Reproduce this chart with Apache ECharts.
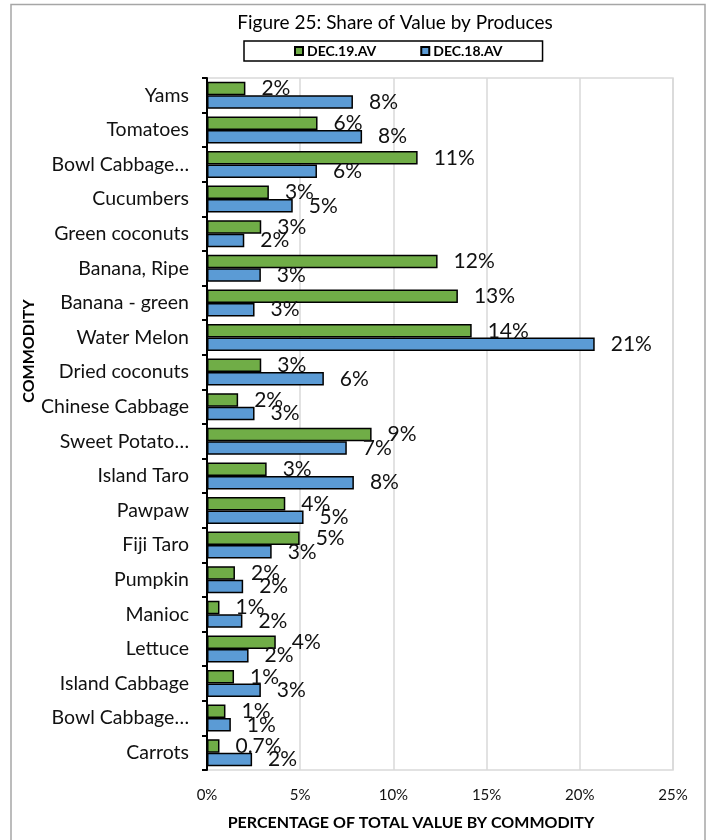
<!DOCTYPE html>
<html>
<head>
<meta charset="utf-8">
<script src="https://cdn.jsdelivr.net/npm/echarts@6/dist/echarts.min.js"></script>
<style>
html,body{margin:0;padding:0;background:#fff;}
#chart{width:708px;height:840px;}
</style>
</head>
<body>
<div id="chart"></div>
<script>
var categories = ['Yams','Tomatoes','Bowl Cabbage…','Cucumbers','Green coconuts','Banana, Ripe','Banana - green','Water Melon','Dried coconuts','Chinese Cabbage','Sweet Potato…','Island Taro','Pawpaw','Fiji Taro','Pumpkin','Manioc','Lettuce','Island Cabbage','Bowl Cabbage…','Carrots'];
var dec19 = [2.06, 5.93, 11.3, 3.32, 2.91, 12.37, 13.46, 14.2, 2.91, 1.67, 8.83, 3.2, 4.2, 4.97, 1.5, 0.67, 3.69, 1.45, 0.99, 0.67];
var dec18 = [7.83, 8.32, 5.9, 4.6, 2.0, 2.89, 2.55, 20.8, 6.27, 2.55, 7.5, 7.88, 5.18, 3.47, 1.94, 1.9, 2.23, 2.89, 1.28, 2.42];
var dec19Labels = ['2%','6%','11%','3%','3%','12%','13%','14%','3%','2%','9%','3%','4%','5%','2%','1%','4%','1%','1%','0.7%'];
var dec18Labels = ['8%','8%','6%','5%','2%','3%','3%','21%','6%','3%','7%','8%','5%','3%','2%','2%','2%','3%','1%','2%'];
var xTicks = [0, 5, 10, 15, 20, 25];
var seriesNames = ['DEC.19.AV', 'DEC.18.AV'];
var titleText = 'Figure 25: Share of Value by Produces';
var xTitle = 'PERCENTAGE OF TOTAL VALUE BY COMMODITY';
var yTitle = 'COMMODITY';

var FONT = 'Lato, "Noto Sans", sans-serif';
var chart = echarts.init(document.getElementById('chart'), null, {renderer: 'canvas'});

function mkSeries(name, data, labels, color) {
  return {
    name: name,
    type: 'bar',
    data: data,
    barWidth: 13.5,
    barGap: '0%',
    itemStyle: {color: color, borderColor: '#000', borderWidth: 1.5},
    label: {
      show: true,
      position: 'right',
      distance: 16,
      fontFamily: FONT,
      fontSize: 21,
      color: '#111',
      formatter: function (p) { return labels[p.dataIndex]; }
    }
  };
}

chart.setOption({
  animation: false,
  backgroundColor: '#fff',
  title: {
    text: titleText,
    left: 390, top: 8, textAlign: 'center',
    textStyle: {fontFamily: FONT, fontSize: 19, fontWeight: 'normal', color: '#000'}
  },
  legend: {
    data: seriesNames,
    left: 244, top: 41,
    orient: 'horizontal',
    itemWidth: 8, itemHeight: 8,
    itemGap: 44,
    borderColor: '#000', borderWidth: 1.5,
    padding: [3, 40, 3, 50],
    icon: 'rect',
    textStyle: {fontFamily: FONT, fontSize: 14, fontWeight: 'bold', color: '#000', padding: [0, 0, 0, -1]}
  },
  graphic: [
    {type: 'rect', shape: {x: 11, y: 4.5, width: 694, height: 850}, style: {fill: 'none', stroke: '#a6a6a6', lineWidth: 1.5}, silent: true, z: -1},
    {type: 'text', x: 29, y: 351, rotation: Math.PI / 2,
      style: {text: yTitle, fontFamily: FONT, fontSize: 16, fontWeight: 'bold', fill: '#000', align: 'center', verticalAlign: 'middle'}},
    {type: 'text', x: 411, y: 823,
      style: {text: xTitle, fontFamily: FONT, fontSize: 16, fontWeight: 'bold', fill: '#000', align: 'center', verticalAlign: 'middle'}}
  ],
  grid: {left: 207, right: 35, top: 78, bottom: 70, show: true, borderColor: '#d9d9d9', borderWidth: 1.5},
  xAxis: {
    type: 'value',
    min: xTicks[0], max: xTicks[xTicks.length - 1], interval: 5,
    axisLine: {show: false},
    axisTick: {show: false},
    splitLine: {show: true, lineStyle: {color: '#d9d9d9', width: 1.5}},
    axisLabel: {fontFamily: FONT, fontSize: 15, color: '#111', margin: 18, formatter: '{value}%'}
  },
  yAxis: {
    type: 'category',
    data: categories,
    inverse: true,
    axisLine: {show: true, lineStyle: {color: '#000', width: 2}},
    axisTick: {show: true, length: 5, lineStyle: {color: '#000', width: 2}},
    axisLabel: {fontFamily: FONT, fontSize: 19.5, color: '#111', margin: 18},
    splitLine: {show: false}
  },
  series: [
    mkSeries(seriesNames[0], dec19, dec19Labels, '#70AD47'),
    mkSeries(seriesNames[1], dec18, dec18Labels, '#5B9BD5')
  ]
});
</script>
</body>
</html>
